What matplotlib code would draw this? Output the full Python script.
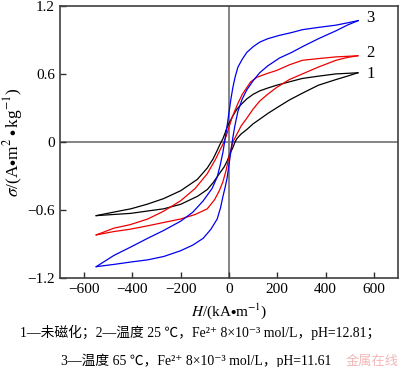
import matplotlib
matplotlib.use('Agg')
import matplotlib.pyplot as plt

plt.rcParams['font.family'] = ['Liberation Serif', 'Noto Sans CJK SC', 'DejaVu Serif']
plt.rcParams['mathtext.fontset'] = 'stix'

# curve 1 (black) - untreated
h1_up = [534, 490, 443, 370, 304, 250, 197, 160, 127, 100, 74, 50, 33, 16, 4, -8, -16, -25, -37,
         -50, -66, -90, -131, -200, -271, -340, -407, -480, -550]
s1_up = [0.61, 0.605, 0.60, 0.58, 0.56, 0.53, 0.50, 0.475, 0.45, 0.42, 0.38, 0.33, 0.29, 0.23, 0.18,
         0.13, 0.08, 0.03, -0.02, -0.08, -0.15, -0.23, -0.33, -0.43, -0.50, -0.55, -0.59, -0.62, -0.65]
h1_dn = [-550, -480, -407, -340, -271, -200, -131, -90, -66, -40, -20, -8, 5, 16, 25, 33, 50, 74,
         100, 127, 160, 197, 250, 304, 370, 443, 490, 534]
s1_dn = [-0.65, -0.64, -0.63, -0.61, -0.59, -0.55, -0.48, -0.42, -0.36, -0.28, -0.22, -0.17, -0.10,
         -0.05, 0.0, 0.03, 0.07, 0.11, 0.16, 0.20, 0.25, 0.30, 0.37, 0.43, 0.50, 0.55, 0.58, 0.61]

# curve 2 (red) - 25 C
h2_up = [534, 490, 443, 370, 304, 250, 197, 160, 115, 90, 74, 55, 37, 25, 12, 0, -12, -25, -37,
         -55, -90, -140, -201, -270, -337, -410, -476, -550]
s2_up = [0.76, 0.755, 0.75, 0.735, 0.72, 0.68, 0.63, 0.605, 0.57, 0.53, 0.48, 0.42, 0.34, 0.28,
         0.21, 0.13, 0.05, -0.02, -0.07, -0.15, -0.28, -0.41, -0.52, -0.61, -0.68, -0.73, -0.76, -0.82]
h2_dn = [-550, -476, -410, -337, -270, -201, -140, -90, -60, -40, -25, -12, -4, 5, 16, 33, 50, 74,
         100, 127, 160, 197, 250, 304, 370, 443, 490, 534]
s2_dn = [-0.82, -0.79, -0.77, -0.74, -0.71, -0.68, -0.64, -0.59, -0.51, -0.43, -0.35, -0.25, -0.17,
         -0.09, 0.0, 0.07, 0.14, 0.21, 0.29, 0.36, 0.42, 0.48, 0.55, 0.60, 0.66, 0.72, 0.745, 0.76]

# curve 3 (blue) - 65 C
h3_up = [535, 490, 443, 370, 304, 260, 209, 160, 127, 100, 74, 55, 37, 25, 16, 8, 0, -8, -16, -25,
         -37, -49, -70, -107, -150, -201, -270, -337, -410, -476, -550]
s3_up = [1.07, 1.05, 1.03, 1.01, 0.99, 0.965, 0.94, 0.91, 0.88, 0.84, 0.79, 0.73, 0.66, 0.57, 0.48,
         0.38, 0.26, 0.14, 0.03, -0.09, -0.21, -0.31, -0.41, -0.52, -0.62, -0.70, -0.78, -0.85,
         -0.93, -1.00, -1.10]
h3_dn = [-550, -476, -410, -337, -270, -201, -150, -107, -75, -49, -35, -25, -16, -8, 0, 8, 16, 25,
         37, 55, 74, 100, 127, 160, 209, 260, 304, 370, 443, 490, 535]
s3_dn = [-1.10, -1.08, -1.06, -1.04, -1.01, -0.96, -0.91, -0.85, -0.77, -0.68, -0.58, -0.48, -0.40,
         -0.32, -0.20, -0.08, 0.04, 0.15, 0.27, 0.38, 0.46, 0.54, 0.61, 0.67, 0.74, 0.79, 0.84, 0.91,
         0.98, 1.03, 1.07]

curve_labels = ['1', '2', '3']
label_y = [0.60, 0.78, 1.09]

fig = plt.figure(figsize=(4.0, 3.67), dpi=100)
ax = fig.add_axes([0.15, 0.2425, 0.845, 0.7415])

ax.axhline(0, color='#707070', lw=1.2, zorder=1)
ax.axvline(0, color='#707070', lw=1.2, zorder=1)

loops = [
    (h1_up, s1_up, h1_dn, s1_dn, 'black'),
    (h2_up, s2_up, h2_dn, s2_dn, '#ee0000'),
    (h3_up, s3_up, h3_dn, s3_dn, '#0000ee'),
]
for hu, su, hd, sd, c in loops:
    ax.plot(hu, su, color=c, lw=0.9, zorder=2)
    ax.plot(hd, sd, color=c, lw=0.9, zorder=2)

for lab, y in zip(curve_labels, label_y):
    ax.text(570, y, lab, fontsize=12, va='center', ha='left')

ax.set_xlim(-700, 700)
ax.set_ylim(-1.2, 1.2)
ax.set_xticks([-600, -400, -200, 0, 200, 400, 600])
ax.set_yticks([-1.2, -0.6, 0, 0.6, 1.2])
ax.set_xticklabels(['\u2212600', '\u2212400', '\u2212200', '0', '200', '400', '600'])
ax.set_yticklabels(['\u22121.2', '\u22120.6', '0', '0.6', '1.2'])
ax.tick_params(direction='in', length=4, width=1, labelsize=11, colors='#303030', labelcolor='black')
for sp in ax.spines.values():
    sp.set_color('#404040')
    sp.set_linewidth(1.2)

ax.set_xlabel(r'$H$/(kA$\bullet$m$^{-1}$)', fontsize=11, labelpad=4)
ax.set_ylabel(r'$\sigma$/(A$\bullet$m$^{2}\bullet$kg$^{-1}$)', fontsize=12.5, labelpad=2)

fig.text(0.5, 0.093, '1—未磁化；2—温度 25 ℃，Fe²⁺ 8×10⁻³ mol/L，pH=12.81；',
         ha='center', va='center', fontsize=9.9)
fig.text(0.49, 0.016, '3—温度 65 ℃，Fe²⁺ 8×10⁻³ mol/L，pH=11.61',
         ha='center', va='center', fontsize=9.9)
fig.text(0.997, 0.016, '金属在线', ha='right', va='center', fontsize=9.5,
         color='#f2b8b8', family=['Noto Sans CJK SC'])

fig.savefig('out.png', dpi=100)
